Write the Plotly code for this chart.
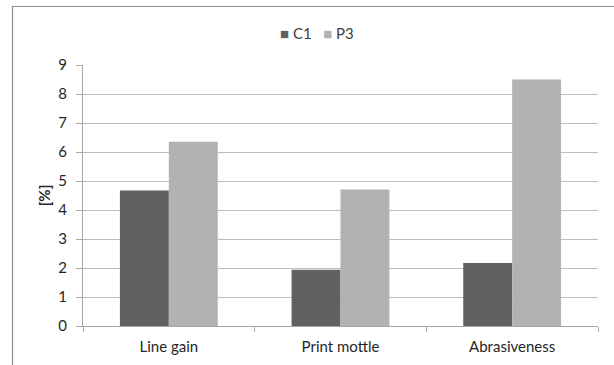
import plotly.graph_objects as go

# Measured properties per sample
categories = ["Line gain", "Print mottle", "Abrasiveness"]
series_names = ["C1", "P3"]
series_colors = ["#606060", "#b2b2b2"]
c1_values = [4.67, 1.94, 2.17]
p3_values = [6.35, 4.71, 8.5]
y_ticks = [0, 1, 2, 3, 4, 5, 6, 7, 8, 9]

FONT = "Lato"
AXIS_GREY = "#a6a6a6"
GRID_GREY = "#bdbdbd"
TEXT = "#262626"

fig = go.Figure()
for name, color, vals in zip(series_names, series_colors, [c1_values, p3_values]):
    fig.add_trace(go.Bar(name=name, x=categories, y=vals,
                         marker=dict(color=color, line=dict(width=0))))

W, H = 614, 365
ml, mr, mt, mb = 83, 16, 65, 39
pw, ph = W - ml - mr, H - mt - mb


def px_x(px):
    return (px - ml) / pw


def px_y(py):
    return (H - mb - py) / ph


# Compact legend: coloured square glyph directly before each series name
legend_text = "&nbsp;&nbsp;&nbsp;".join(
    f"<span style='color:{c}'>■</span>&nbsp;{n}" for n, c in zip(series_names, series_colors)
)

fig.update_layout(
    width=W, height=H,
    margin=dict(l=ml, r=mr, t=mt, b=mb, autoexpand=False),
    paper_bgcolor="white", plot_bgcolor="white",
    barmode="group", bargap=0.43, bargroupgap=0,
    font=dict(family=FONT, size=15, color=TEXT),
    showlegend=False,
    xaxis=dict(showline=True, linecolor=AXIS_GREY, linewidth=1, automargin=False,
               ticks="outside", tickson="boundaries", ticklen=5, tickcolor=AXIS_GREY,
               showgrid=False, ticklabelstandoff=7,
               tickfont=dict(size=15, color=TEXT)),
    yaxis=dict(range=[0, 9], tickvals=y_ticks, showline=True, linecolor=AXIS_GREY, linewidth=1,
               automargin=False,
               ticks="outside", ticklen=6, tickcolor=AXIS_GREY, ticklabelstandoff=6,
               showgrid=True, gridcolor=GRID_GREY, gridwidth=1, zeroline=False,
               tickfont=dict(size=15, color=TEXT),
               title=dict(text="<b>[%]</b>", font=dict(size=15, color=TEXT), standoff=4)),
    annotations=[dict(text=legend_text, xref="paper", yref="paper",
                      x=px_x(317), y=px_y(32.5), xanchor="center", yanchor="middle",
                      showarrow=False, font=dict(size=15, color="#404040", family=FONT))],
    shapes=[dict(type="rect", xref="paper", yref="paper",
                 x0=px_x(12.5), x1=px_x(640), y0=px_y(390), y1=px_y(6.5),
                 line=dict(color="#8c8c8c", width=1.2), fillcolor="rgba(0,0,0,0)", layer="below")],
)

fig.write_html("out.html")
